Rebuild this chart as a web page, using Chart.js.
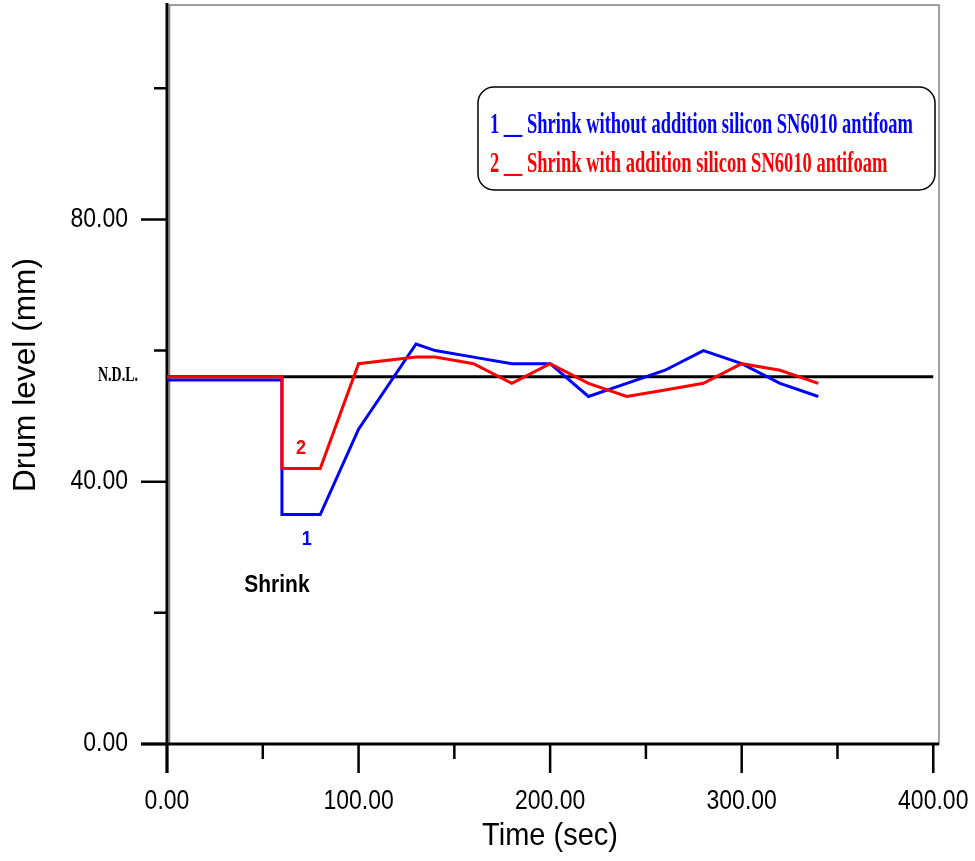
<!DOCTYPE html>
<html>
<head>
<meta charset="utf-8">
<script src="https://cdn.jsdelivr.net/npm/chart.js@4"></script>
<style>
  html, body { margin: 0; padding: 0; background: #fff; }
  #wrap { width: 975px; height: 861px; position: relative; }
</style>
</head>
<body>
<div id="wrap"><canvas id="myChart"></canvas></div>
<script>
// data
const timeBlue = [0, 60, 60, 80, 100, 130, 140, 160, 180, 200, 220, 240, 260, 280, 300, 320, 340];
const levelBlue = [55.5, 55.5, 35, 35, 48, 61, 60, 59, 58, 58, 53, 55, 57, 60, 58, 55, 53];
const timeRed = [0, 60, 60, 80, 100, 130, 140, 160, 180, 200, 220, 240, 260, 280, 300, 320, 340];
const levelRed = [56, 56, 42, 42, 58, 59, 59, 58, 55, 58, 55, 53, 54, 55, 58, 57, 55];
const ndlTime = [0, 400];
const ndlLevel = [56, 56];

const xMajor = [0, 100, 200, 300, 400];
const xMinor = [50, 150, 250, 350];
const yMajor = [0, 40, 80];
const yMinor = [20, 60, 100];

const legendLabels = [
    '1 __ Shrink without addition silicon SN6010 antifoam',
    '2 __ Shrink with addition silicon SN6010 antifoam'
];

function toPoints(xs, ys) {
    return xs.map((x, i) => ({ x: x, y: ys[i] }));
}

// text drawn a bit taller than the font, like the original
function tallText(ctx, t, x, y, sy) {
    ctx.save();
    ctx.translate(x, y);
    ctx.scale(1, sy);
    ctx.fillText(t, 0, 0);
    ctx.restore();
}

// axes, ticks, frame and the texts around the plot
const decorPlugin = {
    id: 'decor',
    beforeDatasetsDraw(chart) {
        const ctx = chart.ctx;
        const xs = chart.scales.x, ys = chart.scales.y;
        const a = chart.chartArea;
        const x0 = xs.getPixelForValue(0), y0 = ys.getPixelForValue(0);
        ctx.save();
        // grey frame
        ctx.strokeStyle = '#808080';
        ctx.lineWidth = 1.5;
        ctx.strokeRect(x0 + 2.5, a.top, a.right - x0 - 2.5, y0 - a.top);
        // black axes
        ctx.strokeStyle = '#000';
        ctx.lineWidth = 3;
        ctx.beginPath();
        ctx.moveTo(x0, a.top - 2);
        ctx.lineTo(x0, y0 + 29);
        ctx.moveTo(x0 - 26, y0);
        ctx.lineTo(a.right, y0);
        ctx.stroke();
        ctx.lineWidth = 2.5;
        ctx.beginPath();
        xMajor.forEach(v => {
            const p = xs.getPixelForValue(v);
            ctx.moveTo(p, y0); ctx.lineTo(p, y0 + 29);
        });
        xMinor.forEach(v => {
            const p = xs.getPixelForValue(v);
            ctx.moveTo(p, y0); ctx.lineTo(p, y0 + 15);
        });
        yMajor.forEach(v => {
            const p = ys.getPixelForValue(v);
            ctx.moveTo(x0, p); ctx.lineTo(x0 - 26, p);
        });
        yMinor.forEach(v => {
            const p = ys.getPixelForValue(v);
            ctx.moveTo(x0, p); ctx.lineTo(x0 - 13, p);
        });
        ctx.stroke();
        ctx.restore();
    },
    afterDraw(chart) {
        const ctx = chart.ctx;
        const xs = chart.scales.x, ys = chart.scales.y;
        const x0 = xs.getPixelForValue(0), y0 = ys.getPixelForValue(0);
        ctx.save();
        ctx.fillStyle = '#000';
        ctx.font = '23px "Liberation Sans", Arial, sans-serif';
        ctx.textBaseline = 'middle';
        ctx.textAlign = 'center';
        xMajor.forEach(v => {
            tallText(ctx, v.toFixed(2), xs.getPixelForValue(v), y0 + 58, 1.17);
        });
        ctx.textAlign = 'right';
        yMajor.forEach(v => {
            tallText(ctx, v.toFixed(2), x0 - 39, ys.getPixelForValue(v), 1.17);
        });

        // axis titles
        ctx.font = '29px "Liberation Sans", Arial, sans-serif';
        ctx.textAlign = 'center';
        tallText(ctx, 'Time (sec)', 550, 836, 1.08);
        ctx.save();
        ctx.translate(26, 375);
        ctx.rotate(-Math.PI / 2);
        let tw = ctx.measureText('Drum level (mm)').width;
        ctx.scale(234 / tw, 1.08);
        ctx.fillText('Drum level (mm)', 0, 0);
        ctx.restore();

        // N.D.L. label, narrow serif
        ctx.font = 'bold 22px "Liberation Serif", "Times New Roman", serif';
        ctx.textBaseline = 'alphabetic';
        ctx.textAlign = 'left';
        let w = ctx.measureText('N.D.L.').width;
        ctx.save();
        ctx.translate(98, ys.getPixelForValue(ndlLevel[0]) + 4);
        ctx.scale(40 / w, 1);
        ctx.fillText('N.D.L.', 0, 0);
        ctx.restore();

        // curve numbers and Shrink note
        ctx.textBaseline = 'middle';
        ctx.textAlign = 'center';
        ctx.font = 'bold 18px "Liberation Sans", Arial, sans-serif';
        ctx.fillStyle = '#ff0000';
        tallText(ctx, '2', xs.getPixelForValue(70), ys.getPixelForValue(45), 1.1);
        ctx.fillStyle = '#0000ff';
        tallText(ctx, '1', xs.getPixelForValue(73), ys.getPixelForValue(31.2), 1.1);
        ctx.fillStyle = '#000';
        ctx.font = 'bold 21px "Liberation Sans", Arial, sans-serif';
        tallText(ctx, 'Shrink', xs.getPixelForValue(57.4), ys.getPixelForValue(24.2), 1.15);

        // legend box
        ctx.strokeStyle = '#000';
        ctx.lineWidth = 1.5;
        ctx.beginPath();
        ctx.roundRect(478, 87, 457, 103, 16);
        ctx.stroke();
        ctx.font = 'bold 29px "Liberation Serif", "Times New Roman", serif';
        ctx.textBaseline = 'alphabetic';
        ctx.textAlign = 'left';
        const sx = 423 / ctx.measureText(legendLabels[0]).width;
        const colors = ['#0000ff', '#ff0000'];
        const base = [133, 172];
        legendLabels.forEach((t, i) => {
            ctx.save();
            ctx.translate(490, base[i]);
            ctx.scale(sx, 1);
            ctx.fillStyle = colors[i];
            ctx.fillText(t, 0, 0);
            ctx.restore();
        });
        ctx.restore();
    }
};

var ctx = document.getElementById('myChart').getContext('2d');
var myChart = new Chart(ctx, {
    type: 'line',
    data: {
        datasets: [
            {
                label: '2',
                data: toPoints(timeRed, levelRed),
                borderColor: '#ff0000',
                borderWidth: 3,
                pointRadius: 0,
                tension: 0,
                order: 1
            },
            {
                label: '1',
                data: toPoints(timeBlue, levelBlue),
                borderColor: '#0000ff',
                borderWidth: 3,
                pointRadius: 0,
                tension: 0,
                order: 2
            },
            {
                label: 'N.D.L.',
                data: toPoints(ndlTime, ndlLevel),
                borderColor: '#000',
                borderWidth: 3,
                pointRadius: 0,
                order: 3
            }
        ]
    },
    options: {
        responsive: true,
        maintainAspectRatio: false,
        animation: false,
        layout: {
            padding: { left: 167, right: 36, top: 5, bottom: 117 }
        },
        plugins: {
            legend: { display: false },
            tooltip: { enabled: false }
        },
        scales: {
            x: { type: 'linear', min: 0, max: 403, display: false },
            y: { type: 'linear', min: 0, max: 112.7, display: false }
        }
    },
    plugins: [decorPlugin]
});
</script>
</body>
</html>
